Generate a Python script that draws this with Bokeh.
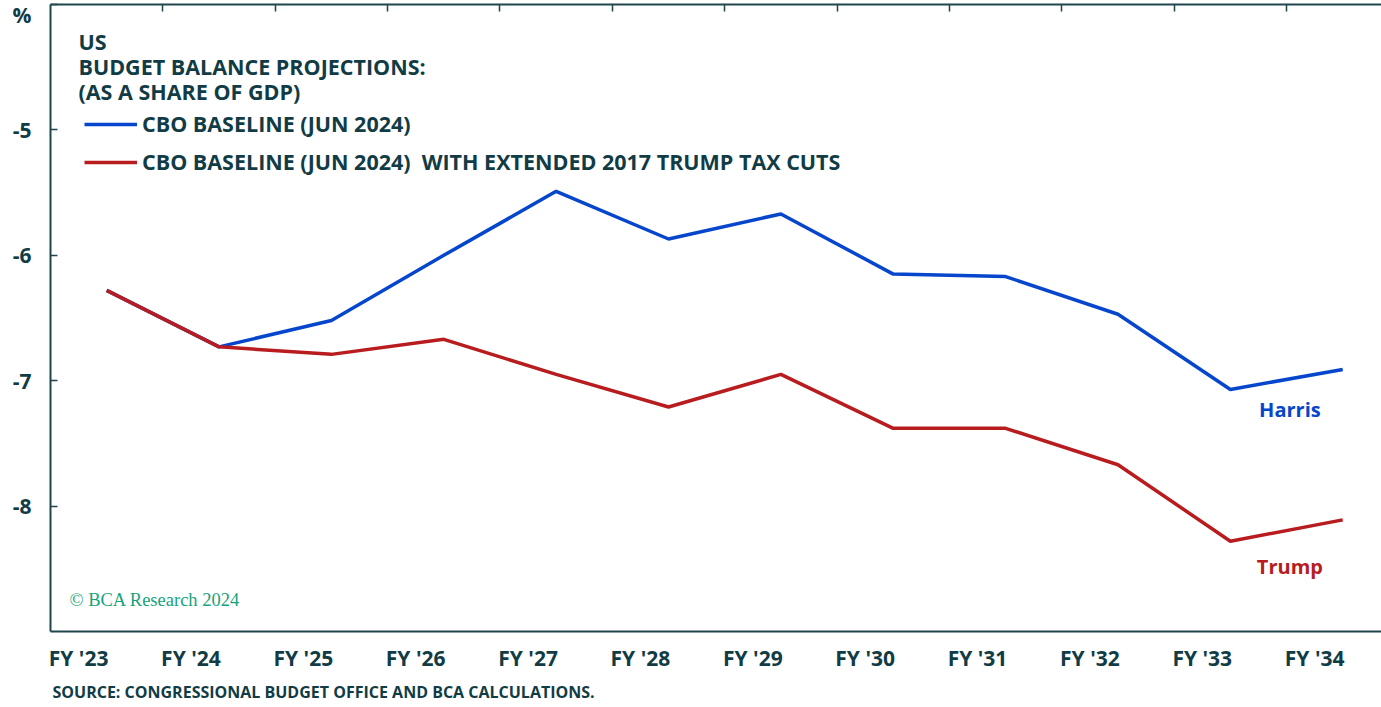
from bokeh.plotting import figure
from bokeh.models import (Range1d, FixedTicker, LinearAxis, Label, Legend, LegendItem,
                          CustomJSTickFormatter, Title)
from bokeh.embed import file_html
from bokeh.resources import INLINE

# ---- data ----
fiscal_years = ["FY '23", "FY '24", "FY '25", "FY '26", "FY '27", "FY '28",
                "FY '29", "FY '30", "FY '31", "FY '32", "FY '33", "FY '34"]
cbo_baseline = [-6.28, -6.73, -6.52, -6.00, -5.49, -5.87, -5.67, -6.15, -6.17, -6.47, -7.07, -6.91]
cbo_with_tax_cuts = [-6.28, -6.73, -6.79, -6.67, -6.95, -7.21, -6.95, -7.38, -7.38, -7.67, -8.28, -8.11]
y_tick_values = [-8, -7, -6, -5, -4]
y_tick_labels = ["-8", "-7", "-6", "-5", "%\n "]
series_names = ["CBO BASELINE (JUN 2024)",
                "CBO BASELINE (JUN 2024)  WITH EXTENDED 2017 TRUMP TAX CUTS"]

TEXT = "#113c45"
AXIS = "#1f454d"
BLUE = "#0646cc"
RED = "#b81c1e"
GREEN = "#17a37b"
FONT = "Open Sans"

x_idx = list(range(len(fiscal_years)))

p = figure(width=1381, height=707,
           x_range=Range1d(-0.5, 11.345), y_range=Range1d(-9, -4),
           x_axis_type=None, y_axis_type=None,
           output_backend="svg", toolbar_location=None,
           min_border_left=50, min_border_right=0, min_border_top=4, min_border_bottom=76)
p.outline_line_color = None
p.background_fill_color = "white"
p.border_fill_color = "white"

# left axis
yaxis = LinearAxis(ticker=FixedTicker(ticks=y_tick_values),
                   formatter=CustomJSTickFormatter(
                       args=dict(tvals=y_tick_values, tlabels=y_tick_labels),
                       code="const i = tvals.indexOf(tick); return i >= 0 ? tlabels[i] : '';"))
yaxis.major_tick_in = 7
yaxis.major_tick_out = 0
yaxis.major_tick_line_width = 1.5
yaxis.major_tick_line_color = AXIS
yaxis.minor_tick_line_color = None
yaxis.axis_line_color = AXIS
yaxis.axis_line_width = 2
yaxis.major_label_standoff = 19
yaxis.major_label_text_font = FONT
yaxis.major_label_text_font_style = "bold"
yaxis.major_label_text_font_size = "21px"
yaxis.major_label_text_color = TEXT
p.add_layout(yaxis, "left")

# bottom axis (labels sit a quarter year left of the data points)
xaxis = LinearAxis(ticker=FixedTicker(ticks=[i - 0.25 for i in x_idx]),
                   formatter=CustomJSTickFormatter(args=dict(xlabels=fiscal_years),
                                                   code="return xlabels[Math.round(tick + 0.25)]"))
xaxis.major_tick_line_color = None
xaxis.minor_tick_line_color = None
xaxis.axis_line_color = AXIS
xaxis.axis_line_width = 2
xaxis.major_label_standoff = 6
xaxis.major_label_text_font = FONT
xaxis.major_label_text_font_style = "bold"
xaxis.major_label_text_font_size = "21px"
xaxis.major_label_text_color = TEXT
p.add_layout(xaxis, "below")

# source note under the axis
p.add_layout(Title(text="SOURCE: CONGRESSIONAL BUDGET OFFICE AND BCA CALCULATIONS.",
                   align="left", offset=2, standoff=8, text_font=FONT,
                   text_font_style="bold", text_font_size="16px", text_color=TEXT), "below")

# top border with inward ticks between years
taxis = LinearAxis(ticker=FixedTicker(ticks=[i + 0.5 for i in x_idx[:-1]]),
                   formatter=CustomJSTickFormatter(code="return ''"))
taxis.major_tick_in = 7
taxis.major_tick_out = 0
taxis.major_tick_line_width = 1.5
taxis.major_tick_line_color = AXIS
taxis.minor_tick_line_color = None
taxis.axis_line_color = AXIS
taxis.axis_line_width = 2
taxis.major_label_standoff = 0
p.add_layout(taxis, "above")

rb = p.line(x_idx, cbo_baseline, line_color=BLUE, line_width=3.5)
rr = p.line(x_idx, cbo_with_tax_cuts, line_color=RED, line_width=3.5)

legend = Legend(items=[LegendItem(label=series_names[0], renderers=[rb]),
                       LegendItem(label=series_names[1], renderers=[rr])],
                location=(34, 455), glyph_width=53, glyph_height=20, label_height=20,
                label_standoff=5, spacing=9, padding=0, margin=0,
                border_line_color=None, background_fill_alpha=0,
                label_text_font=FONT, label_text_font_style="bold",
                label_text_font_size="21.5px", label_text_color=TEXT)
p.add_layout(legend)

def add_label(text, x, y, units="screen", color=TEXT, size="21.5px", font=FONT, style="bold",
              align="left"):
    p.add_layout(Label(x=x, y=y, x_units=units, y_units=units, text=text,
                       text_color=color, text_font=font, text_font_size=size,
                       text_font_style=style, text_align=align, text_baseline="middle"))

add_label("US", 28, 590.5)
add_label("BUDGET BALANCE PROJECTIONS:", 28, 565.5)
add_label("(AS A SHARE OF GDP)", 28, 540.5)
add_label("© BCA Research 2024", 19, 32, color=GREEN, size="18.5px",
          font="Liberation Serif", style="normal")
add_label("Harris", 10.53, -7.23, units="data", color=BLUE, size="20px", align="center")
add_label("Trump", 10.53, -8.48, units="data", color=RED, size="20px", align="center")

open("out.html", "w").write(file_html(p, INLINE))
